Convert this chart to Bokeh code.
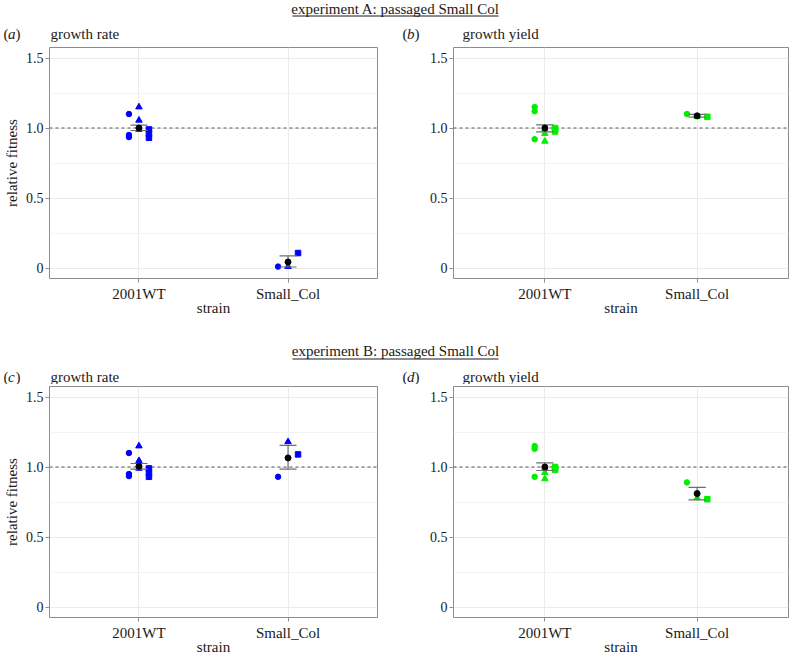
from bokeh.plotting import figure
from bokeh.layouts import column, row
from bokeh.models import FactorRange, Range1d, FixedTicker, Span, Label, ColumnDataSource
from bokeh.transform import dodge
from bokeh.embed import file_html
from bokeh.resources import INLINE

FONT = "Liberation Serif"
TXT = "#1a1a1a"

# ---------------- data ----------------
strains = ["2001WT", "Small_Col"]
reps = ["1", "2", "3"]
y_ticks = [0, 0.5, 1.0, 1.5]
y_tick_labels = ["0", "0.5", "1.0", "1.5"]
y_minor = [0.25, 0.75, 1.25]

header_a = "experiment A: passaged Small Col"
header_b = "experiment B: passaged Small Col"
panel_tags = ["a", "b", "c", "d"]
panel_titles = ["growth rate", "growth yield", "growth rate", "growth yield"]

# (a) experiment A, growth rate
a_strain = ["2001WT"] * 9 + ["Small_Col"] * 3
a_rep = ["1", "1", "1", "2", "2", "2", "3", "3", "3", "1", "2", "3"]
a_value = [1.10, 0.95, 0.935, 1.15, 1.055, 0.99, 0.99, 0.96, 0.93, 0.01, 0.01, 0.107]
a_mean = [1.0, 0.043]
a_lower = [0.982, 0.007]
a_upper = [1.02, 0.086]

# (b) experiment A, growth yield
b_strain = ["2001WT"] * 9 + ["Small_Col"] * 3
b_rep = ["1", "1", "1", "2", "2", "2", "3", "3", "3", "1", "2", "3"]
b_value = [1.15, 1.12, 0.92, 0.99, 0.96, 0.905, 1.0, 0.99, 0.975, 1.10, 1.08, 1.08]
b_mean = [1.0, 1.087]
b_lower = [0.972, 1.077]
b_upper = [1.022, 1.097]

# (c) experiment B, growth rate
c_strain = ["2001WT"] * 9 + ["Small_Col"] * 3
c_rep = ["1", "1", "1", "2", "2", "2", "3", "3", "3", "1", "2", "3"]
c_value = [1.10, 0.95, 0.935, 1.15, 1.045, 0.99, 0.99, 0.96, 0.93, 0.93, 1.18, 1.09]
c_mean = [1.005, 1.065]
c_lower = [0.985, 0.985]
c_upper = [1.025, 1.155]

# (d) experiment B, growth yield
d_strain = ["2001WT"] * 9 + ["Small_Col"] * 3
d_rep = ["1", "1", "1", "2", "2", "2", "3", "3", "3", "1", "2", "3"]
d_value = [1.15, 1.13, 0.93, 0.99, 0.96, 0.915, 1.0, 0.99, 0.98, 0.89, 0.78, 0.77]
d_mean = [1.0, 0.81]
d_lower = [0.975, 0.765]
d_upper = [1.03, 0.855]

BLUE = "#0000ff"
GREEN = "#00f000"

MARKERS = {"1": ("circle", 5.5), "2": ("triangle", 6.5), "3": ("square", 5.5)}
OFFSETS = {"1": -0.067, "2": 0.0, "3": 0.067}

FH = 231      # frame height
TOP_B = 2
BOT_B = 40


def make_panel(strain, rep, vals, mean, lower, upper, color, ylabel):
    if ylabel:
        left_b, fw, right_b = 49, 328, 23
    else:
        left_b, fw, right_b = 53, 335, 5
    p = figure(width=left_b + fw + right_b, height=TOP_B + FH + BOT_B,
               x_range=FactorRange(factors=strains, range_padding=0.1),
               y_range=Range1d(-0.075, 1.575),
               output_backend="svg", toolbar_location=None, title=None,
               min_border_left=left_b, min_border_right=right_b,
               min_border_top=TOP_B, min_border_bottom=BOT_B)
    p.background_fill_color = "white"
    p.border_fill_color = "white"
    p.outline_line_color = "#8c8c8c"
    p.outline_line_width = 1

    ticker = FixedTicker(ticks=y_ticks, minor_ticks=y_minor)
    p.yaxis.ticker = ticker
    p.ygrid.ticker = ticker
    p.yaxis.major_label_overrides = dict(zip(y_ticks, y_tick_labels))

    p.xgrid.grid_line_color = "#ebebeb"
    p.ygrid.grid_line_color = "#ebebeb"
    p.ygrid.minor_grid_line_color = "#f3f3f3"

    for ax in (p.xaxis[0], p.yaxis[0]):
        ax.axis_line_color = None
        ax.major_tick_line_color = "#8c8c8c"
        ax.major_tick_in = 0
        ax.major_tick_out = 4
        ax.minor_tick_line_color = None
        ax.major_label_text_font = FONT
        ax.major_label_text_color = TXT
        ax.axis_label_text_font = FONT
        ax.axis_label_text_font_style = "normal"
        ax.axis_label_text_font_size = "15px"
        ax.axis_label_text_color = TXT
    p.xaxis.major_label_text_font_size = "15px"
    p.yaxis.major_label_text_font_size = "14px"
    p.xaxis.major_label_standoff = 3
    p.xaxis.axis_label = "strain"
    p.xaxis.axis_label_standoff = -5
    p.yaxis.major_label_standoff = 2
    if ylabel:
        p.yaxis.axis_label = "relative fitness"
        p.yaxis.axis_label_standoff = 3

    p.add_layout(Span(location=1, dimension="width", line_color="#555555",
                      line_dash="3 3", line_width=1, level="underlay"))

    # individual replicate points
    for r in reps:
        idx = [i for i, rr in enumerate(rep) if rr == r]
        src = ColumnDataSource(dict(strain=[strain[i] for i in idx],
                                    value=[vals[i] for i in idx]))
        marker, size = MARKERS[r]
        p.scatter(x=dodge("strain", OFFSETS[r], range=p.x_range), y="value",
                  source=src, marker=marker, size=size,
                  fill_color=color, line_color=color, line_width=1)

    # mean +/- error
    es = ColumnDataSource(dict(strain=strains, mean=mean, lower=lower, upper=upper))
    ecol = "#6e6e6e"
    p.segment(x0="strain", x1="strain", y0="lower", y1="upper", source=es,
              line_color=ecol, line_width=1.2)
    for col in ("lower", "upper"):
        p.segment(x0=dodge("strain", -0.057, range=p.x_range),
                  x1=dodge("strain", 0.057, range=p.x_range),
                  y0=col, y1=col, source=es, line_color=ecol, line_width=1.2)
    p.scatter(x="strain", y="mean", source=es, marker="circle", size=6,
              fill_color="black", line_color="black")
    return p


def make_header(text, h, text_y, line_y, tag_y, tags, titles):
    """Strip above a row of panels: centred underlined heading + panel tags/titles.
    Coordinates are pixels from the strip's top-left corner."""
    p = figure(width=793, height=h, x_range=Range1d(0, 793), y_range=Range1d(h, 0),
               output_backend="svg", toolbar_location=None, title=None,
               x_axis_type=None, y_axis_type=None, min_border=0)
    p.outline_line_color = None
    p.border_fill_color = "white"
    p.background_fill_color = "white"
    p.add_layout(Label(x=395, y=text_y, text=text, text_align="center",
                       text_baseline="middle", text_font=FONT,
                       text_font_size="15px", text_color=TXT))
    p.segment(x0=[292], x1=[498], y0=[line_y], y1=[line_y],
              line_color=TXT, line_width=1)
    common = dict(y=tag_y, text_font=FONT, text_font_size="15px",
                  text_color=TXT, text_baseline="middle")
    for (tx, ttx), tag, title in zip([(3, 50), (402, 462)], tags, titles):
        p.add_layout(Label(x=tx, text="(", **common))
        p.add_layout(Label(x=tx + 4.5, text=tag, text_font_style="italic", **common))
        p.add_layout(Label(x=tx + 12, text=")", **common))
        p.add_layout(Label(x=ttx, text=title, **common))
    return p


ha = make_header(header_a, 45, 8, 15.5, 33, panel_tags[:2], panel_titles[:2])
pa = make_panel(a_strain, a_rep, a_value, a_mean, a_lower, a_upper, BLUE, True)
pb = make_panel(b_strain, b_rep, b_value, b_mean, b_lower, b_upper, GREEN, False)
hb = make_header(header_b, 66, 32, 40.5, 58, panel_tags[2:], panel_titles[2:])
pc = make_panel(c_strain, c_rep, c_value, c_mean, c_lower, c_upper, BLUE, True)
pd_ = make_panel(d_strain, d_rep, d_value, d_mean, d_lower, d_upper, GREEN, False)

layout = column(ha, row(pa, pb), hb, row(pc, pd_))

open("out.html", "w").write(file_html(layout, INLINE))
